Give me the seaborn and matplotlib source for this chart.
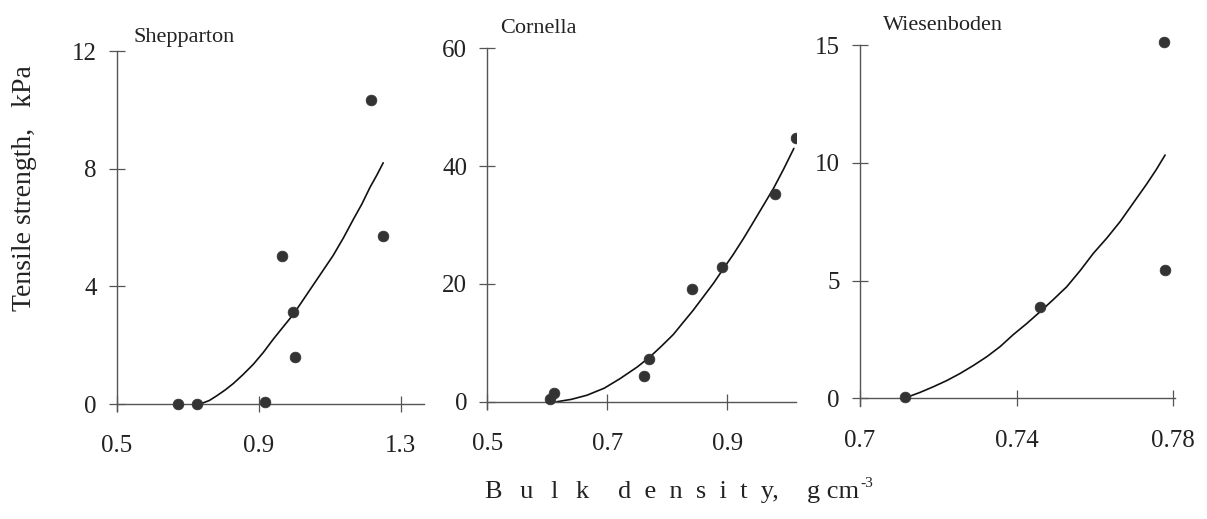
import matplotlib
matplotlib.use("Agg")
import matplotlib.pyplot as plt
from matplotlib.text import Annotation
import seaborn as sns
import pandas as pd

# Measured tensile strength (kPa) against bulk density (g cm^-3)
shep_bd = [0.673, 0.725, 0.917, 0.966, 0.997, 1.002, 1.215, 1.250]
shep_ts = [0.0, 0.0, 0.08, 5.04, 3.14, 1.60, 10.34, 5.72]
shep_fit_bd = [0.734, 0.760, 0.781, 0.805, 0.828, 0.855, 0.884, 0.912, 0.940, 0.968,
               0.997, 1.025, 1.053, 1.081, 1.109, 1.138, 1.166, 1.190, 1.213, 1.232, 1.250]
shep_fit_ts = [0.0, 0.12, 0.28, 0.48, 0.70, 1.00, 1.35, 1.75, 2.20, 2.62,
               3.05, 3.55, 4.05, 4.55, 5.05, 5.65, 6.28, 6.80, 7.37, 7.78, 8.20]

corn_bd = [0.6045, 0.611, 0.762, 0.770, 0.841, 0.892, 0.9795, 1.015]
corn_ts = [0.4, 1.4, 4.36, 7.2, 19.2, 22.9, 35.3, 44.7]
corn_fit_bd = [0.616, 0.640, 0.666, 0.695, 0.721, 0.750, 0.771, 0.790, 0.810, 0.826, 0.843,
               0.860, 0.877, 0.893, 0.910, 0.927, 0.943, 0.960, 0.977, 0.994, 1.011]
corn_fit_ts = [0.0, 0.4, 1.1, 2.3, 3.9, 5.9, 7.6, 9.4, 11.4, 13.4, 15.5,
               17.8, 20.1, 22.5, 25.0, 27.7, 30.4, 33.3, 36.2, 39.5, 43.0]

wies_bd = [0.7115, 0.746, 0.7776, 0.7779]
wies_ts = [0.07, 3.89, 15.14, 5.45]
wies_fit_bd = [0.7119, 0.7153, 0.7187, 0.7221, 0.7255, 0.7290, 0.7324, 0.7358, 0.7391,
               0.7426, 0.7460, 0.7494, 0.7528, 0.7562, 0.7596, 0.7630, 0.7664, 0.7698,
               0.7732, 0.7756, 0.7779]
wies_fit_ts = [0.04, 0.25, 0.49, 0.75, 1.05, 1.40, 1.77, 2.20, 2.70, 3.18, 3.68,
               4.20, 4.74, 5.42, 6.16, 6.80, 7.50, 8.30, 9.10, 9.70, 10.33]

soil_names = ["Shepparton", "Cornella", "Wiesenboden"]
x_ticks = [[0.5, 0.9, 1.3], [0.5, 0.7, 0.9], [0.7, 0.74, 0.78]]
x_tick_labels = [["0.5", "0.9", "1.3"], ["0.5", "0.7", "0.9"], ["0.7", "0.74", "0.78"]]
y_ticks = [[0, 4, 8, 12], [0, 20, 40, 60], [0, 5, 10, 15]]

sns.set_style("ticks")
plt.rcParams["font.family"] = ["Liberation Serif", "DejaVu Serif"]
plt.rcParams["text.color"] = "#222222"

fig = plt.figure(figsize=(12.07, 5.19), dpi=100)

panels = [
    dict(pos=[0.0969, 0.2073, 0.2544, 0.6944], xlim=(0.5, 1.365), ylim=(-0.25, 12),
         pts=(shep_bd, shep_ts), fit=(shep_fit_bd, shep_fit_ts), title_xy=(0.1102, 0.9197),
         clip=False),
    dict(pos=[0.4037, 0.2112, 0.2560, 0.6958], xlim=(0.5, 1.015), ylim=(-1.3, 60),
         pts=(corn_bd, corn_ts), fit=(corn_fit_bd, corn_fit_ts), title_xy=(0.4143, 0.9358),
         clip=True),
    dict(pos=[0.7125, 0.2175, 0.2609, 0.6957], xlim=(0.7, 0.7804), ylim=(-0.33, 15),
         pts=(wies_bd, wies_ts), fit=(wies_fit_bd, wies_fit_ts), title_xy=(0.7316, 0.9422),
         clip=False),
]

mark_color = "#333333"
axis_color = "#555555"

for i, p in enumerate(panels):
    ax = fig.add_axes(p["pos"])
    pts = pd.DataFrame({"bd": p["pts"][0], "ts": p["pts"][1]})
    fit = pd.DataFrame({"bd": p["fit"][0], "ts": p["fit"][1]})
    sns.lineplot(data=fit, x="bd", y="ts", ax=ax, color="#111111", linewidth=1.2,
                 sort=False, estimator=None, zorder=2)
    sns.scatterplot(data=pts, x="bd", y="ts", ax=ax, color=mark_color, s=60,
                    edgecolor=mark_color, linewidth=0.5, zorder=3, clip_on=p["clip"])
    ax.set_xlim(*p["xlim"])
    ax.set_ylim(*p["ylim"])
    ax.set_xticks(x_ticks[i])
    ax.set_xticklabels(x_tick_labels[i])
    ax.set_yticks(y_ticks[i])
    ax.set_yticklabels([str(v) for v in y_ticks[i]])
    ax.set_xlabel("")
    ax.set_ylabel("")
    for side in ("top", "right"):
        ax.spines[side].set_visible(False)
    ax.spines["bottom"].set_position(("data", 0))
    for side in ("left", "bottom"):
        ax.spines[side].set_color(axis_color)
        ax.spines[side].set_linewidth(1.0)
    ax.tick_params(bottom=True, left=True, top=False, right=False,
                   direction="inout", length=11, width=0.9, color=axis_color,
                   labelsize=18, labelcolor="#222222")
    ax.tick_params(axis="x", pad=17)
    ax.tick_params(axis="y", pad=9)
    ax.patch.set_alpha(0)
    fig.text(p["title_xy"][0], p["title_xy"][1], soil_names[i], fontsize=16,
             ha="left", va="baseline")

fig.text(0.0205, 0.6378, "Tensile strength,   kPa", rotation=90, fontsize=20,
         ha="center", va="center")

gap1 = "  \u2006"
gap2 = " \u2005"
base_y = 0.0405
fig.text(485 / 1207, base_y, gap1.join("Bulk"), fontsize=19, ha="left", va="baseline")
fig.text(618 / 1207, base_y, gap2.join("density") + ",", fontsize=19, ha="left",
         va="baseline")
unit = fig.text(807 / 1207, base_y, "g cm", fontsize=19, ha="left", va="baseline")
fig.add_artist(Annotation("-3", xy=(1, 1), xycoords=unit, xytext=(1, 3),
                          textcoords="offset points", fontsize=11, ha="left", va="top"))

fig.savefig("out.png", dpi=100, facecolor="white")
